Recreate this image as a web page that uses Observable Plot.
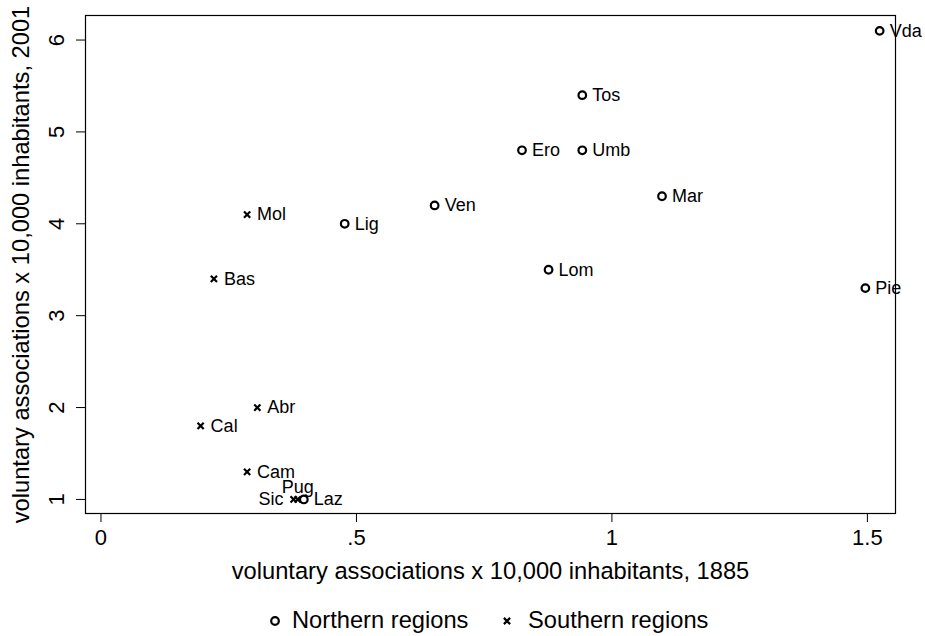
<!DOCTYPE html>
<html>
<head>
<meta charset="utf-8">
<script src="https://cdn.jsdelivr.net/npm/d3@7"></script>
<script src="https://cdn.jsdelivr.net/npm/@observablehq/plot@0.6"></script>
<style>
  html, body { margin: 0; padding: 0; background: #fff; }
  #chart { width: 925px; font-family: "Liberation Sans", Arial, sans-serif; }
  #chart svg { display: block; }
</style>
</head>
<body>
<div id="chart"></div>
<script>
// ---- data ----
const regions   = ["Vda","Tos","Ero","Umb","Mar","Ven","Lig","Lom","Pie","Laz","Mol","Bas","Abr","Cal","Cam","Sic","Pug"];
const assoc1885 = [1.524,0.942,0.824,0.942,1.098,0.653,0.477,0.876,1.496,0.397,0.286,0.221,0.306,0.195,0.286,0.377,0.385];
const assoc2001 = [6.1,  5.4,  4.8,  4.8,  4.3,  4.2,  4.0,  3.5,  3.3,  1.0,  4.1,  3.4,  2.0,  1.8,  1.3,  1.0,  1.0];
const area      = ["Northern","Northern","Northern","Northern","Northern","Northern","Northern","Northern","Northern","Northern",
                   "Southern","Southern","Southern","Southern","Southern","Southern","Southern"];
const xTicks = [0, 0.5, 1, 1.5];
const xTickLabels = ["0", ".5", "1", "1.5"];
const yTicks = [1, 2, 3, 4, 5, 6];
const xTitle = "voluntary associations x 10,000 inhabitants, 1885";
const yTitle = "voluntary associations x 10,000 inhabitants, 2001";
const legendLabels = ["Northern regions", "Southern regions"];
const labelLeft = ["Sic"];
const labelTop = ["Pug"];

const data = regions.map((r, i) => ({region: r, x: assoc1885[i], y: assoc2001[i], area: area[i]}));
const north = data.filter(d => d.area === "Northern");
const south = data.filter(d => d.area === "Southern");
const rightLab = data.filter(d => !labelLeft.includes(d.region) && !labelTop.includes(d.region));
const leftLab = data.filter(d => labelLeft.includes(d.region));
const topLab = data.filter(d => labelTop.includes(d.region));

const crossSym = {
  draw(ctx, size) {
    const h = Math.sqrt(size) / 2;
    ctx.moveTo(-h, -h); ctx.lineTo(h, h);
    ctx.moveTo(-h, h); ctx.lineTo(h, -h);
  }
};

const W = 925, H = 600;
const mL = 85, mR = 30, mT = 15, mB = 87;
const font = "Liberation Sans, Arial, sans-serif";

const plot = Plot.plot({
  width: W, height: H,
  marginLeft: mL, marginRight: mR, marginTop: mT, marginBottom: mB,
  style: {fontFamily: font, background: "#fff", color: "#000"},
  x: {domain: [-0.0303, 1.555]},
  y: {domain: [0.847, 6.267]},
  marks: [
    Plot.frame({stroke: "#000", strokeWidth: 1.2}),
    Plot.axisX({ticks: xTicks, tickSize: 9, tickPadding: 7, fontSize: 22,
                tickFormat: d => xTickLabels[xTicks.indexOf(d)], label: null, stroke: "#000"}),
    Plot.axisY({ticks: yTicks, tickSize: 9, tickFormat: () => "", label: null, stroke: "#000"}),
    Plot.text(yTicks, {y: d => d, text: d => String(d), frameAnchor: "left", dx: -29,
                       rotate: -90, textAnchor: "middle", lineAnchor: "middle", fontSize: 22, fill: "#000"}),
    Plot.text([xTitle], {text: d => d, frameAnchor: "bottom", dy: 58, fontSize: 23.7,
                         textAnchor: "middle", lineAnchor: "middle", fill: "#000"}),
    Plot.text([yTitle], {text: d => d, frameAnchor: "left", dx: -64, rotate: -90, fontSize: 23.7,
                         textAnchor: "middle", lineAnchor: "middle", fill: "#000"}),
    Plot.dot(north, {x: "x", y: "y", r: 3.8, stroke: "#000", strokeWidth: 2.2, fill: "none"}),
    Plot.dot(south, {x: "x", y: "y", r: 3.5, symbol: crossSym, stroke: "#000", strokeWidth: 2.2, fill: "none"}),
    Plot.text(rightLab, {x: "x", y: "y", text: "region", dx: 10, textAnchor: "start", fontSize: 18, fill: "#000"}),
    Plot.text(leftLab, {x: "x", y: "y", text: "region", dx: -10, textAnchor: "end", fontSize: 18, fill: "#000"}),
    Plot.text(topLab, {x: "x", y: "y", text: "region", dy: -6, textAnchor: "middle", lineAnchor: "bottom", fontSize: 18, fill: "#000"})
  ]
});
document.getElementById("chart").appendChild(plot);

// legend below the plot
const leg = d3.select("#chart").append("svg").attr("width", W).attr("height", 36)
  .style("font-family", font);
leg.append("circle").attr("cx", 275).attr("cy", 21).attr("r", 3.8)
  .attr("fill", "none").attr("stroke", "#000").attr("stroke-width", 2.2);
leg.append("text").attr("x", 292).attr("y", 28).attr("font-size", 23.7).attr("fill", "#000").text(legendLabels[0]);
const h = 3.1;
leg.append("path").attr("d", `M${507-h},${21-h}L${507+h},${21+h}M${507-h},${21+h}L${507+h},${21-h}`)
  .attr("stroke", "#000").attr("stroke-width", 2.2);
leg.append("text").attr("x", 528).attr("y", 28).attr("font-size", 23.7).attr("fill", "#000").text(legendLabels[1]);
</script>
</body>
</html>
